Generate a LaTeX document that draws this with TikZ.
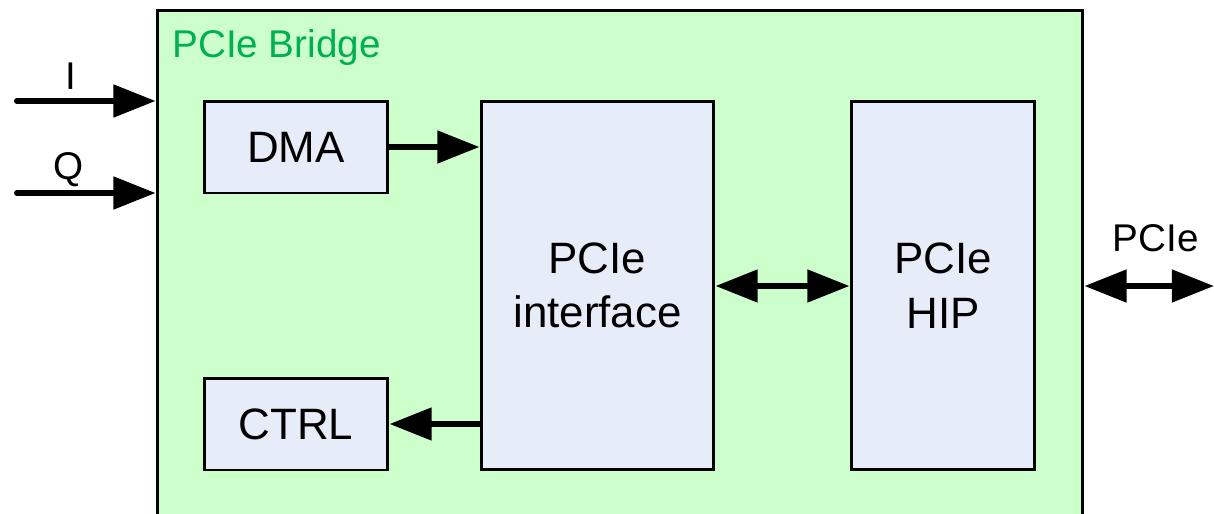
\documentclass[tikz,border=0pt]{standalone}
\usepackage{fontspec}
\setmainfont{Liberation Sans}
\usetikzlibrary{positioning,arrows.meta}
\definecolor{bridgegreen}{RGB}{204,255,204}
\definecolor{blockblue}{RGB}{230,236,248}
\definecolor{titlegreen}{RGB}{0,176,80}

\begin{document}
\begin{tikzpicture}[x=0.02cm,y=-0.02cm,
  block/.style={draw,line width=1.7pt,fill=blockblue,align=center,
    font=\fontsize{25}{31}\selectfont,inner sep=0pt},
  bus/.style={line width=3.4pt,-{Triangle[length=24pt,width=18pt]}},
  dbus/.style={line width=3.4pt,{Triangle[length=24pt,width=18pt]}-{Triangle[length=24pt,width=18pt]}},
  sig/.style={font=\fontsize{22}{26}\selectfont,inner sep=0pt}
]
\useasboundingbox (0,0) rectangle (1214,514);
\clip (0,0) rectangle (1214,514);

% the bridge
\node[draw,line width=1.7pt,fill=bridgegreen,minimum width=18.52cm,minimum height=10.6cm,inner sep=0pt] (bridge) at (620,275) {};
\node[anchor=base west,text=titlegreen,font=\fontsize{22}{26}\selectfont,inner sep=0pt] (title) at (172,57) {PCIe Bridge};

% the blocks
\node[block,minimum width=3.68cm,minimum height=1.84cm] (dma) at (296,147) {DMA};
\node[block,minimum width=3.68cm,minimum height=1.84cm] (ctrl) at (296,424) {CTRL};
\node[block,minimum width=4.66cm,minimum height=7.38cm] (ifc) at (597.5,285.5) {PCIe\\interface};
\node[block,minimum width=3.68cm,minimum height=7.38cm] (hip) at (943,285.5) {PCIe\\HIP};

% the ports
\coordinate (iin) at (17,101);
\coordinate (qin) at (17,193);
\coordinate (pout) at (1214,286);

% the edges
\draw[bus,line cap=round] (iin) -- node[sig,pos=0.39,above=5pt] (ilabel) {I} (iin -| bridge.west);
\draw[bus,line cap=round] (qin) -- node[sig,pos=0.37,above=2pt] (qlabel) {Q} (qin -| bridge.west);
\draw[bus,line cap=round] (dma.east) -- (dma.east -| ifc.west);
\draw[bus,line cap=round] (ifc.west |- ctrl.east) -- (ctrl.east);
\draw[dbus] (ifc.east |- pout) -- (hip.west |- pout);
\draw[dbus] (bridge.east |- pout) -- node[sig,pos=0.55,above=18pt] (plabel) {PCIe} (pout);
\end{tikzpicture}
\end{document}
